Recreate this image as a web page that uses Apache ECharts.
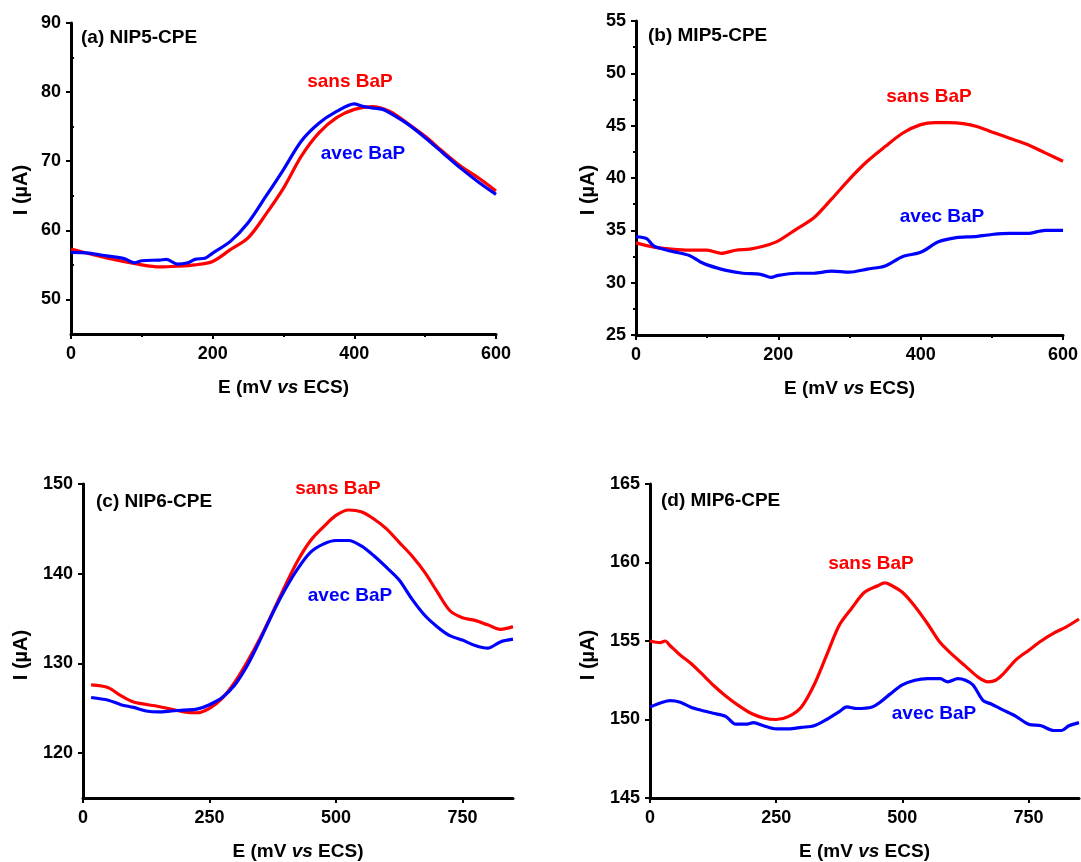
<!DOCTYPE html>
<html>
<head>
<meta charset="utf-8">
<script src="https://cdn.jsdelivr.net/npm/echarts@6/dist/echarts.min.js"></script>
<style>
html,body{margin:0;padding:0;background:#fff;}
#c{width:1081px;height:862px;}
</style>
</head>
<body>
<div id="c"></div>
<script>
// ---------- data ----------
// Panel (a) NIP5-CPE
const aSansE = [0,50,100,125,150,175,200,225,250,275,300,325,350,375,400,425,450,475,500,525,550,575,600];
const aSansI = [57.3,56.0,55.0,54.7,54.8,55.0,55.5,57.2,58.9,62.3,66.1,70.7,74.1,76.3,77.5,77.9,77.2,75.5,73.6,71.4,69.3,67.6,65.7];
const aAvecE = [0,25,50,75,90,100,125,135,150,165,175,190,200,225,250,275,300,325,350,375,400,410,425,440,450,475,500,525,550,575,600];
const aAvecI = [56.8,56.7,56.3,55.9,55.3,55.6,55.7,55.8,55.1,55.3,55.8,56.0,56.7,58.4,61.1,64.9,68.8,72.9,75.5,77.2,78.3,78.0,77.7,77.5,77.0,75.4,73.4,71.2,69.0,67.0,65.2];
// Panel (b) MIP5-CPE
const bSansE = [0,25,50,75,100,120,140,160,180,200,225,250,275,300,325,350,375,400,420,440,460,480,500,525,550,575,600];
const bSansI = [33.8,33.4,33.2,33.1,33.1,32.8,33.1,33.2,33.5,34.0,35.1,36.2,38.0,39.9,41.6,43.0,44.3,45.1,45.3,45.3,45.2,44.9,44.4,43.8,43.2,42.4,41.6];
const bAvecE = [0,15,25,50,75,90,100,125,150,175,190,200,225,250,275,300,325,350,375,400,425,450,475,500,525,550,575,600];
const bAvecI = [34.4,34.2,33.5,33.0,32.6,32.0,31.7,31.2,30.9,30.8,30.5,30.7,30.9,30.9,31.1,31.0,31.3,31.6,32.5,32.9,33.9,34.3,34.4,34.6,34.7,34.7,35.0,35.0];
// Panel (c) NIP6-CPE
const cSansE = [16,50,75,100,150,200,225,250,275,300,325,350,375,400,425,450,475,500,525,550,575,600,625,650,675,700,725,750,775,800,825,850];
const cSansI = [127.6,127.3,126.4,125.7,125.2,124.6,124.5,125.0,126.1,127.9,130.2,132.8,135.7,138.7,141.5,143.7,145.2,146.5,147.1,146.9,146.1,145.0,143.5,142.0,140.2,138.0,135.9,135.1,134.8,134.3,133.8,134.1];
const cAvecE = [16,50,75,100,125,150,175,200,225,250,275,300,325,350,375,400,425,450,475,500,525,550,575,600,625,650,675,700,725,750,775,800,825,850];
const cAvecI = [126.2,125.9,125.4,125.1,124.7,124.6,124.7,124.8,124.9,125.4,126.2,127.6,129.8,132.6,135.6,138.3,140.6,142.4,143.3,143.7,143.7,143.1,142.0,140.7,139.3,137.2,135.4,134.1,133.1,132.6,132.0,131.7,132.4,132.7];
// Panel (d) MIP6-CPE
const dSansE = [0,20,30,40,60,80,100,125,150,175,200,225,250,275,300,325,350,375,400,425,450,465,475,500,525,550,575,600,625,650,670,685,700,725,750,775,800,825,850];
const dSansI = [155.0,154.9,155.0,154.7,154.1,153.6,153.0,152.2,151.5,150.9,150.4,150.1,150.0,150.2,150.8,152.2,154.1,156.0,157.1,158.1,158.5,158.7,158.6,158.1,157.2,156.1,154.9,154.1,153.4,152.7,152.4,152.5,152.9,153.8,154.4,155.0,155.5,155.9,156.4];
const dAvecE = [0,25,40,60,80,100,125,150,170,190,205,225,250,275,300,325,350,375,390,410,440,460,475,500,525,550,575,590,610,625,640,660,675,700,725,750,775,800,815,830,850];
const dAvecI = [150.8,151.1,151.2,151.1,150.8,150.6,150.4,150.2,149.7,149.7,149.8,149.6,149.4,149.4,149.5,149.6,150.0,150.5,150.8,150.7,150.8,151.2,151.6,152.2,152.5,152.6,152.6,152.4,152.6,152.5,152.2,151.2,151.0,150.6,150.2,149.7,149.6,149.3,149.3,149.6,149.8];

// tick labels
const aYTicks = [50,60,70,80,90];
const aYMinor = [55,65,75,85];
const cYTicks = [120,130,140,150];
const cdXTicks = [0,250,500,750];

const panelTitles = ['(a) NIP5-CPE','(b) MIP5-CPE','(c) NIP6-CPE','(d) MIP6-CPE'];
const sansLabel = 'sans BaP';
const avecLabel = 'avec BaP';
const xTitle = '{n|E (mV }{i|vs}{n| ECS)}';
const yTitle = 'I (µA)';

// ---------- helpers ----------
const FONT = '"Liberation Sans", Arial, sans-serif';
const RED = '#ff0000', BLUE = '#0000ff';
const zip = (xs, ys) => xs.map((x, i) => [x, ys[i]]);

const grids = [
  {left:71, top:23, width:425, height:311},
  {left:636, top:21, width:427, height:314},
  {left:83, top:484, width:430, height:316},
  {left:650, top:484, width:429, height:316}
];

function xAxisCfg(gi, max, interval, extra) {
  return Object.assign({
    type:'value', gridIndex:gi, min:0, max:max, interval:interval,
    axisLine:{show:true, onZero:false, lineStyle:{color:'#000', width:3}},
    axisTick:{show:true, inside:false, length:5, lineStyle:{color:'#000', width:2}},
    axisLabel:{color:'#000', fontFamily:FONT, fontWeight:'bold', fontSize:18, margin:11},
    splitLine:{show:false},
    name:xTitle, nameLocation:'middle', nameGap:44,
    nameTextStyle:{rich:{
      n:{fontFamily:FONT, fontWeight:'bold', fontSize:19, color:'#000'},
      i:{fontFamily:FONT, fontWeight:'bold', fontStyle:'italic', fontSize:19, color:'#000'}
    }}
  }, extra || {});
}
function yAxisCfg(gi, min, max, interval, extra) {
  return Object.assign({
    type:'value', gridIndex:gi, min:min, max:max, interval:interval,
    axisLine:{show:true, onZero:false, lineStyle:{color:'#000', width:3}},
    axisTick:{show:true, inside:false, length:5, lineStyle:{color:'#000', width:2}},
    axisLabel:{color:'#000', fontFamily:FONT, fontWeight:'bold', fontSize:18, margin:10},
    splitLine:{show:false}
  }, extra || {});
}
const minorTick = {show:true, splitNumber:2, length:3, lineStyle:{color:'#000', width:2}};

const xAxes = [
  xAxisCfg(0, 600, 200, {minorTick:minorTick}),
  xAxisCfg(1, 600, 200, {minorTick:minorTick}),
  xAxisCfg(2, 850, 250, {axisTick:{show:true, length:5, customValues:cdXTicks, lineStyle:{color:'#000', width:2}},
    axisLabel:{color:'#000', fontFamily:FONT, fontWeight:'bold', fontSize:18, margin:11, customValues:cdXTicks}}),
  xAxisCfg(3, 850, 250, {axisTick:{show:true, length:5, customValues:cdXTicks, lineStyle:{color:'#000', width:2}},
    axisLabel:{color:'#000', fontFamily:FONT, fontWeight:'bold', fontSize:18, margin:11, customValues:cdXTicks}})
];
const yAxes = [
  yAxisCfg(0, 45, 90, 5, {
    axisTick:{show:true, length:5, customValues:aYTicks, lineStyle:{color:'#000', width:2}},
    axisLabel:{color:'#000', fontFamily:FONT, fontWeight:'bold', fontSize:18, margin:10, customValues:aYTicks}}),
  yAxisCfg(1, 25, 55, 5, {minorTick:minorTick}),
  yAxisCfg(2, 115, 150, 5, {
    axisTick:{show:true, length:5, customValues:cYTicks, lineStyle:{color:'#000', width:2}},
    axisLabel:{color:'#000', fontFamily:FONT, fontWeight:'bold', fontSize:18, margin:10, customValues:cYTicks}}),
  yAxisCfg(3, 145, 165, 5, {}),
  // minor ticks for panel (a)
  yAxisCfg(0, 45, 90, 5, {
    axisLine:{show:false},
    axisTick:{show:true, length:3, customValues:aYMinor, lineStyle:{color:'#000', width:2}},
    axisLabel:{show:false}})
];

function line(i, data, color) {
  return {type:'line', xAxisIndex:i, yAxisIndex:i, data:data, showSymbol:false, symbol:'none',
    smooth:0.3, lineStyle:{color:color, width:3.2}, z:3, silent:true};
}
const series = [
  line(0, zip(aSansE, aSansI), RED), line(0, zip(aAvecE, aAvecI), BLUE),
  line(1, zip(bSansE, bSansI), RED), line(1, zip(bAvecE, bAvecI), BLUE),
  line(2, zip(cSansE, cSansI), RED), line(2, zip(cAvecE, cAvecI), BLUE),
  line(3, zip(dSansE, dSansI), RED), line(3, zip(dAvecE, dAvecI), BLUE)
];

function txt(x, y, s, color, size, align, rot) {
  return {type:'text', x:x, y:y, rotation:rot || 0, z:10,
    style:{text:s, fill:color, font:'bold ' + size + 'px ' + FONT,
      textAlign:align || 'center', textVerticalAlign:'middle'}};
}
const graphics = [
  txt(81, 38, panelTitles[0], '#000', 19, 'left'),
  txt(648, 36, panelTitles[1], '#000', 19, 'left'),
  txt(96, 502, panelTitles[2], '#000', 19, 'left'),
  txt(661, 501, panelTitles[3], '#000', 19, 'left'),
  txt(350, 82, sansLabel, RED, 19), txt(363, 154, avecLabel, BLUE, 19),
  txt(929, 97, sansLabel, RED, 19), txt(942, 217, avecLabel, BLUE, 19),
  txt(338, 489, sansLabel, RED, 19), txt(350, 596, avecLabel, BLUE, 19),
  txt(871, 564, sansLabel, RED, 19), txt(934, 714, avecLabel, BLUE, 19),
  txt(21, 190, yTitle, '#000', 20, 'center', Math.PI/2),
  txt(588, 190, yTitle, '#000', 20, 'center', Math.PI/2),
  txt(21, 655, yTitle, '#000', 20, 'center', Math.PI/2),
  txt(588, 655, yTitle, '#000', 20, 'center', Math.PI/2)
];

const chart = echarts.init(document.getElementById('c'), null, {renderer:'canvas'});
chart.setOption({
  animation:false,
  backgroundColor:'#fff',
  grid:grids,
  xAxis:xAxes,
  yAxis:yAxes,
  series:series,
  graphic:graphics
});
</script>
</body>
</html>
